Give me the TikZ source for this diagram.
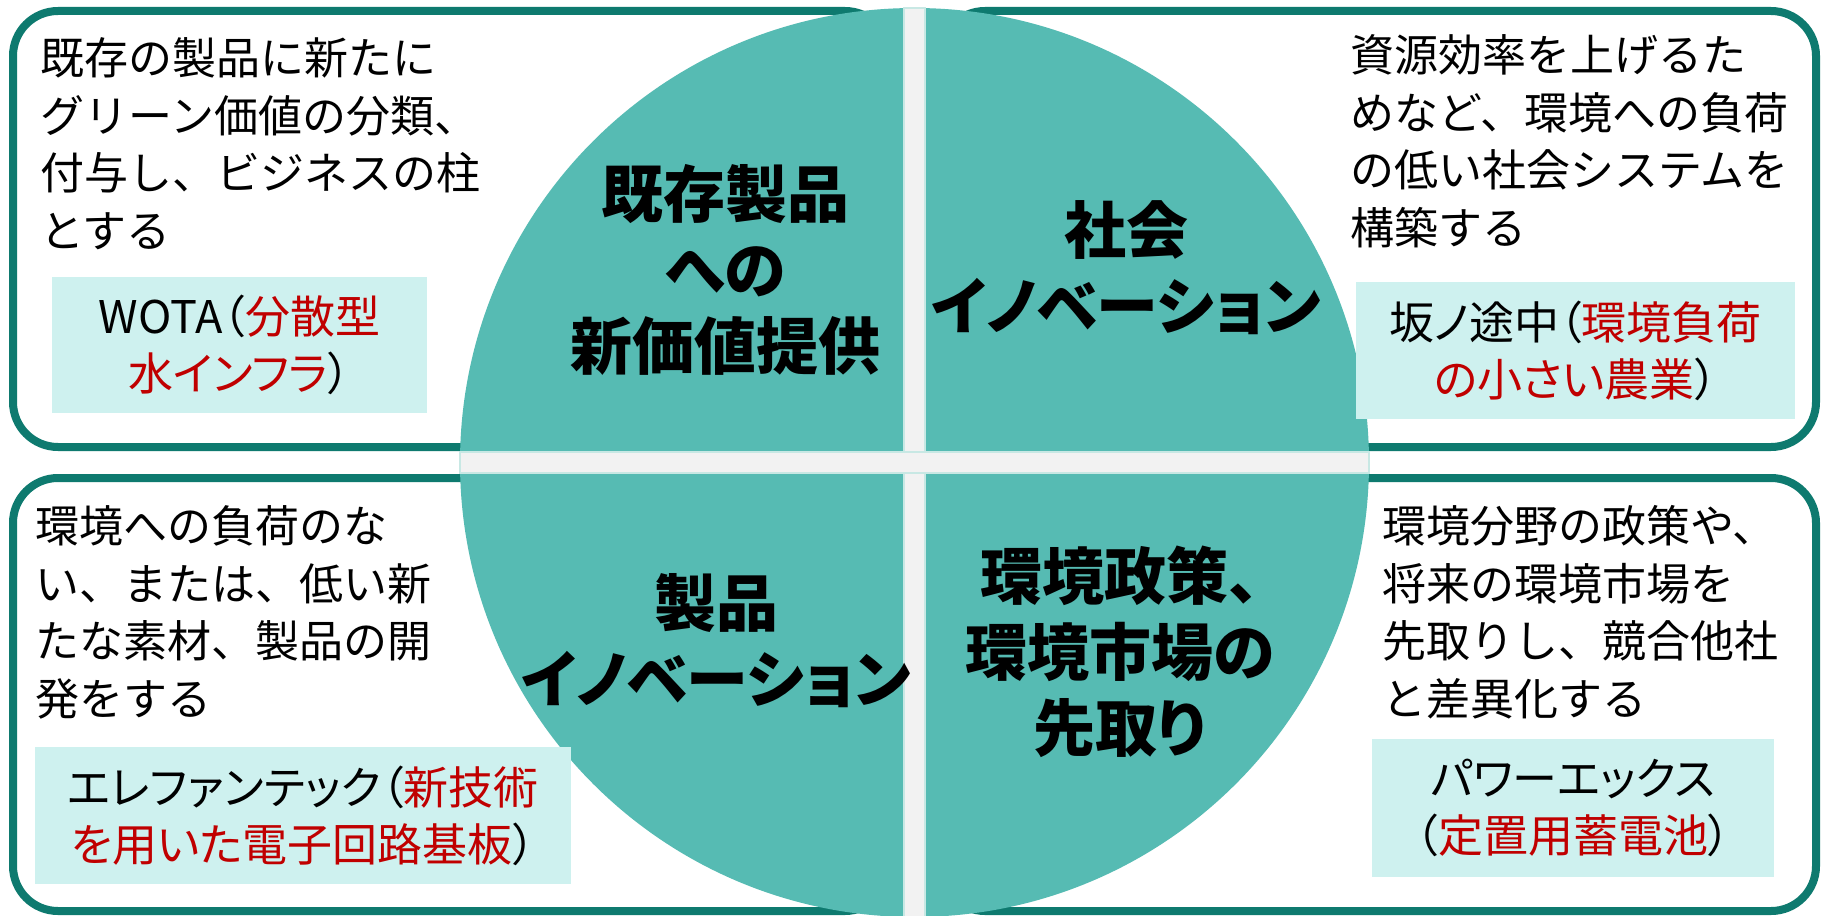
\documentclass[tikz,border=0pt]{standalone}
\usepackage{fontspec}
\setmainfont{Noto Sans CJK JP}
\newfontfamily\jpp[RawFeature=+palt]{Noto Sans CJK JP}
\definecolor{tealfill}{RGB}{86,187,179}
\definecolor{darkteal}{RGB}{14,122,111}
\definecolor{bandgray}{RGB}{242,242,242}
\definecolor{bandline}{RGB}{200,232,228}
\definecolor{labelfill}{RGB}{206,241,239}
\definecolor{redtxt}{RGB}{192,0,0}
\tikzset{
  bigbox/.style={draw=darkteal, line width=8pt, fill=white, rounded corners=45pt},
  desc/.style={anchor=west, align=left, inner sep=0pt, font=\fontsize{44}{57.5}\selectfont},
  titletext/.style={align=center, inner sep=0pt, font=\jpp\bfseries\fontsize{62}{76}\selectfont},
  labelbox/.style={fill=labelfill, inner sep=0pt, align=center, font=\jpp\fontsize{45}{57}\selectfont},
  band/.style={fill=bandgray, draw=bandline, line width=1.2pt},
}
\begin{document}
\begin{tikzpicture}[x=1pt,y=-1pt]
\useasboundingbox (0,0) rectangle (1827,915);
\fill[white] (0,0) rectangle (1827,915);
% outer boxes
\draw[bigbox] (13,11) rectangle (890,447);
\draw[bigbox] (940,11) rectangle (1816,447);
\draw[bigbox] (13,478) rectangle (890,911);
\draw[bigbox] (940,478) rectangle (1816,911);
% circle
\fill[tealfill] (914.5,462.5) circle[radius=454.5pt];
% cross
\filldraw[band] (904,8) rectangle (925,917);
\filldraw[band] (460,452) rectangle (1369,473);
\fill[bandgray] (904.6,452.6) rectangle (924.4,472.4);
% label boxes
\node[labelbox, minimum width=375pt, minimum height=136pt] (wota) at (239.5,345)
  {WOTA（\textcolor{redtxt}{分散型}\\\textcolor{redtxt}{水インフラ}）};
\node[labelbox, minimum width=439pt, minimum height=137pt] (saka) at (1575.5,350.5)
  {坂ノ途中（\textcolor{redtxt}{環境負荷}\\\textcolor{redtxt}{の小さい農業}）};
\node[labelbox, minimum width=536pt, minimum height=137pt] (ele) at (303,815.5)
  {エレファンテック（\textcolor{redtxt}{新技術}\\\textcolor{redtxt}{を用いた電子回路基板}）};
\node[labelbox, minimum width=402pt, minimum height=138pt] (px) at (1573,808)
  {パワーエックス\\（\textcolor{redtxt}{定置用蓄電池}）};
% descriptions
\node[desc] (d1) at (40,143.5) {既存の製品に新たに\\グリーン価値の分類、\\付与し、ビジネスの柱\\とする};
\node[desc] (d2) at (1350,141.5) {資源効率を上げるた\\めなど、環境への負荷\\の低い社会システムを\\構築する};
\node[desc] (d3) at (35,612.5) {環境への負荷のな\\い、または、低い新\\たな素材、製品の開\\発をする};
\node[desc] (d4) at (1382,612) {環境分野の政策や、\\将来の環境市場を\\先取りし、競合他社\\と差異化する};
% titles
\node[titletext] (t1) at (725,270) {既存製品\\への\\新価値提供};
\node[titletext] (t2) at (1126,267.5) {社会\\イノベーション};
\node[titletext] (t3) at (716,640.5) {製品\\イノベーション};
\node[titletext] (t4) at (1120,651.5) {環境政策、\\環境市場の\\先取り};
\end{tikzpicture}
\end{document}
